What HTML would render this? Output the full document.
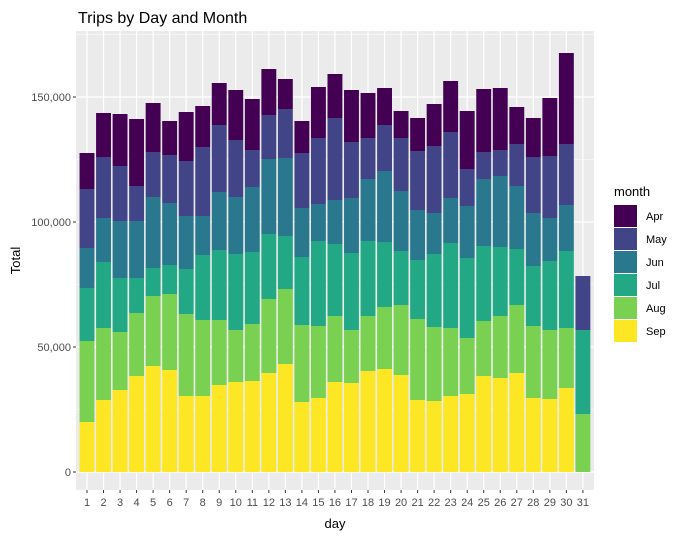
<!DOCTYPE html>
<html><head><meta charset="utf-8"><style>
body{margin:0;background:#fff;}
svg text{font-family:"Liberation Sans",Arial,sans-serif;}
</style></head><body>
<svg id="c" width="683" height="538" xmlns="http://www.w3.org/2000/svg">
<text x="78" y="23" font-size="16" fill="#000">Trips by Day and Month</text>
</svg>
<script>
const days = [1,2,3,4,5,6,7,8,9,10,11,12,13,14,15,16,17,18,19,20,21,22,23,24,25,26,27,28,29,30,31];
const months = ["Sep","Aug","Jul","Jun","May","Apr"];
const sepVals = [20000,28800,32800,38400,42400,40800,30400,30400,34800,36000,36400,39600,43200,28000,29600,36000,35600,40400,41200,38800,28800,28400,30400,31200,38400,37600,39600,29600,29200,33600,0];
const augVals = [32400,28800,23200,25200,28000,30400,32800,30400,26000,20800,22800,29600,30000,30800,28800,26400,21200,22000,24800,28000,32400,29600,27200,22400,22000,24800,27200,28800,27600,24000,23200];
const julVals = [21200,26400,21600,14000,11200,11600,18000,26000,28000,30400,28800,26000,21200,27200,34000,28800,30800,30000,26000,21600,23600,29200,34000,32000,30000,27600,22400,24000,27600,30800,33600];
const junVals = [16000,17600,22800,22800,28400,24800,21200,15600,23200,22800,26000,30000,31200,19600,14800,17600,22000,24800,28400,24000,20000,16400,18000,20800,26800,28400,25200,21200,17200,18400,0];
const mayVals = [23600,24400,22000,14000,18000,19200,22000,27600,26800,22800,14800,17600,19600,22000,26400,32800,22400,16400,18400,21200,23600,26800,26400,14800,10800,10400,16800,22400,24800,24400,21600];
const aprVals = [14400,17600,20800,26800,19600,13600,19600,16400,16800,20000,20400,18400,12000,12800,20400,17600,20800,18000,14800,10800,13200,16800,20400,23200,25200,24800,14800,15600,23200,36400,0];
const yTicks = [0,50000,100000,150000];
const yTickLabels = ["0","50,000","100,000","150,000"];
const colors = {Apr:"#440154",May:"#414487",Jun:"#2A788E",Jul:"#22A884",Aug:"#7AD151",Sep:"#FDE725"};
const series = {Sep:sepVals,Aug:augVals,Jul:julVals,Jun:junVals,May:mayVals,Apr:aprVals};

const svg = document.getElementById('c');
const NS = "http://www.w3.org/2000/svg";
const PL=76, PR=594, PT=31, PB=490;
const y0=472, k=0.0025;
const yS = v => y0 - v*k;
const step = 16.53;
const xS = d => 87 + step*(d-1);
function mk(t, a){const e=document.createElementNS(NS,t);for(const n in a)e.setAttribute(n,a[n]);svg.appendChild(e);return e;}

const bg = mk('rect',{x:PL,y:PT,width:PR-PL,height:PB-PT,fill:'#EBEBEB'});


for(let i=0;i<yTicks.length;i++){
  const m = yTicks[i]+25000;
  if(yS(m)>PT){
    const g=mk('line',{x1:PL,x2:PR,y1:yS(m),y2:yS(m),stroke:'#fff','stroke-width':0.6});
    
    
  }
}
yTicks.forEach((t,i)=>{
  const g=mk('line',{x1:PL,x2:PR,y1:yS(t),y2:yS(t),stroke:'#fff','stroke-width':1.2});
  
  
  const tk=mk('line',{x1:PL-3,x2:PL,y1:yS(t),y2:yS(t),stroke:'#333','stroke-width':1});
  
  
  const tx=mk('text',{x:PL-5,y:yS(t)+4,'font-size':11,fill:'#4D4D4D','text-anchor':'end'});
  tx.textContent=yTickLabels[i];
  
  
});
days.forEach(d=>{
  const g=mk('line',{x1:xS(d),x2:xS(d),y1:PT,y2:PB,stroke:'#fff','stroke-width':1.2});
  
  
});
days.forEach((d,i)=>{
  let cum=0;
  months.forEach(m=>{
    const v=series[m][i];
    if(v>0){
      const r=mk('rect',{x:xS(d)-7.45,width:14.9,y:yS(cum+v),height:v*k,fill:colors[m]});
      
      
    }
    cum+=v;
  });
  const tk=mk('line',{x1:xS(d),x2:xS(d),y1:PB,y2:PB+3,stroke:'#333','stroke-width':1});
  
  
  const tx=mk('text',{x:xS(d),y:PB+16,'font-size':11,fill:'#4D4D4D','text-anchor':'middle'});
  tx.textContent=d;
  
  
});
const xt=mk('text',{x:(PL+PR)/2,y:528,'font-size':13,fill:'#000','text-anchor':'middle'});
xt.textContent='day';


const yt=mk('text',{x:20,y:(PT+PB)/2,'font-size':13,fill:'#000','text-anchor':'middle',transform:'rotate(-90 20 '+((PT+PB)/2)+')'});
yt.textContent='Total';


const lt=mk('text',{x:614,y:196,'font-size':13,fill:'#000'});
lt.textContent='month';


["Apr","May","Jun","Jul","Aug","Sep"].forEach((m,i)=>{
  const yy=205+i*23;
  const r=mk('rect',{x:614,y:yy,width:23,height:22,fill:colors[m]});
  
  
  const t=mk('text',{x:646,y:yy+15,'font-size':11,fill:'#000'});
  t.textContent=m;
  
  
});
</script>
</body></html>
